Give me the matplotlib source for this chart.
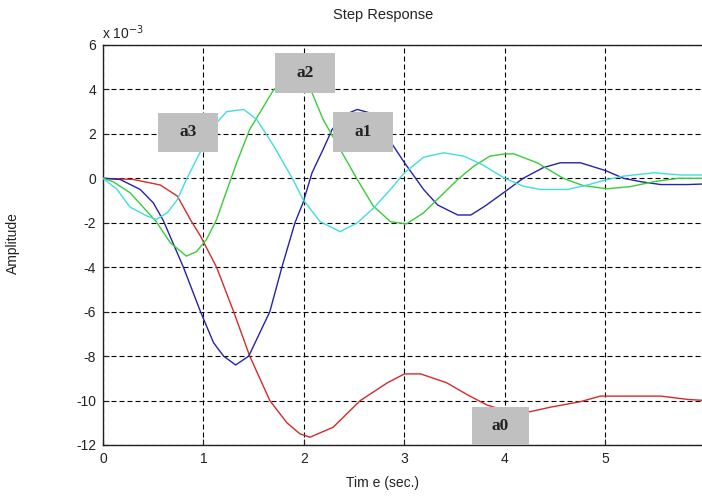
import matplotlib.pyplot as plt
from matplotlib.patches import Rectangle

plt.rcParams['font.family'] = ['Liberation Sans', 'DejaVu Sans']
plt.rcParams['axes.unicode_minus'] = False

# step responses (amplitude in units of 1e-3)
t_a0 = [0, 0.3, 0.57, 0.74, 0.87, 0.97, 1.13, 1.3, 1.46, 1.66, 1.83, 1.96, 2.06, 2.29, 2.56,
        2.83, 3.0, 3.16, 3.42, 3.63, 3.82, 4.0, 4.25, 4.45, 4.75, 4.95, 5.55, 5.82, 6.0]
y_a0 = [0, -0.05, -0.3, -0.8, -1.86, -2.6, -4.0, -6.0, -8.0, -10.0, -11.0, -11.5, -11.65, -11.2, -10.0,
        -9.2, -8.8, -8.8, -9.2, -9.75, -10.2, -10.45, -10.5, -10.3, -10.05, -9.8, -9.8, -9.95, -10.0]

t_a1 = [0, 0.17, 0.37, 0.5, 0.6, 0.8, 0.97, 1.1, 1.2, 1.32, 1.45, 1.66, 1.78, 1.91, 1.99, 2.08,
        2.19, 2.28, 2.4, 2.53, 2.65, 2.78, 2.89, 3.0, 3.19, 3.33, 3.53, 3.66, 3.8, 4.0, 4.18, 4.38,
        4.55, 4.75, 5.0, 5.18, 5.35, 5.55, 5.82, 6.0]
y_a1 = [0, -0.05, -0.5, -1.1, -1.9, -4.0, -6.0, -7.4, -8.0, -8.4, -8.0, -6.0, -4.0, -2.0, -1.1, 0.25,
        1.3, 2.2, 2.85, 3.1, 2.95, 2.3, 1.45, 0.7, -0.5, -1.2, -1.65, -1.65, -1.25, -0.6, 0.0, 0.48,
        0.7, 0.7, 0.35, 0.0, -0.15, -0.28, -0.28, -0.25]

t_a2 = [0, 0.1, 0.27, 0.4, 0.53, 0.67, 0.83, 0.93, 1.03, 1.13, 1.2, 1.33, 1.46, 1.6, 1.7, 1.85,
        1.98, 2.08, 2.19, 2.36, 2.53, 2.69, 2.86, 3.02, 3.19, 3.36, 3.53, 3.69, 3.85, 4.0, 4.09,
        4.32, 4.58, 4.78, 5.02, 5.25, 5.48, 5.72, 6.0]
y_a2 = [0, -0.15, -0.65, -1.3, -1.95, -2.9, -3.5, -3.3, -2.75, -1.86, -0.95, 0.7, 2.2, 3.25, 4.0, 4.5,
        4.55, 3.85, 2.65, 1.3, -0.05, -1.25, -1.95, -2.05, -1.55, -0.8, -0.05, 0.55, 1.0, 1.1, 1.1,
        0.7, 0.0, -0.33, -0.47, -0.37, -0.15, 0.0, 0.0]

t_a3 = [0, 0.14, 0.27, 0.44, 0.53, 0.64, 0.74, 0.83, 0.93, 1.0, 1.13, 1.23, 1.4, 1.53, 1.7, 1.89,
        1.99, 2.16, 2.36, 2.53, 2.69, 2.86, 3.0, 3.19, 3.39, 3.59, 3.78, 4.0, 4.18, 4.35, 4.62,
        4.82, 5.02, 5.18, 5.48, 5.75, 6.0]
y_a3 = [0, -0.5, -1.3, -1.7, -1.85, -1.55, -0.95, -0.05, 0.85, 1.45, 2.5, 3.0, 3.1, 2.65, 1.45, -0.05,
        -0.95, -1.95, -2.4, -2.0, -1.35, -0.5, 0.25, 0.95, 1.15, 1.0, 0.6, 0.0, -0.35, -0.5, -0.5,
        -0.3, -0.05, 0.1, 0.25, 0.15, 0.15]

labels = ['a0', 'a1', 'a2', 'a3']
colors = ['#d42a2a', '#2424a8', '#38cc38', '#40dede']

fig = plt.figure(figsize=(7.02, 4.97), dpi=100)
ax = fig.add_axes([103 / 702, 1 - 445 / 497, 603 / 702, 400 / 497])

for t, y, c in zip([t_a0, t_a1, t_a2, t_a3], [y_a0, y_a1, y_a2, y_a3], colors):
    ax.plot(t, y, color=c, lw=1.0, zorder=3)

ax.set_xlim(0, 6)
ax.set_ylim(-12, 6)
ax.set_xticks(range(0, 7))
ax.set_yticks(range(-12, 7, 2))
ax.grid(True, color='black', lw=0.8, linestyle=(0, (4.5, 2.7)), zorder=1)
ax.set_axisbelow(True)
ax.tick_params(direction='in', length=4, width=0.8, labelsize=10, colors='#222222', pad=5)
for s in ax.spines.values():
    s.set_linewidth(1.0)
    s.set_color('#222222')

# gray tag boxes: (label, x0, y0, width, height) in data units
tags = [('a3', 0.55, 1.2, 0.59, 1.76),
        ('a2', 1.71, 3.82, 0.60, 1.84),
        ('a1', 2.29, 1.2, 0.60, 1.79),
        ('a0', 3.67, -12.0, 0.57, 1.7)]
for name, x0, y0, w, h in tags:
    ax.add_patch(Rectangle((x0, y0), w, h, facecolor='#c0c0c0', edgecolor='none', zorder=4))
    ax.text(x0 + w / 2, y0 + h / 2, name, ha='center', va='center', fontsize=12.5,
            fontweight='bold', family='Liberation Serif', color='#222222', zorder=5)

fig.text(383 / 702, 1 - 15 / 497, 'Step Response', ha='center', va='center', fontsize=10.5,
         color='#222222')
fig.text(383 / 702, 1 - 483 / 497, 'Tim e (sec.)', ha='center', va='center', fontsize=10,
         color='#222222')
fig.text(13 / 702, 1 - 243 / 497, 'Amplitude', ha='center', va='center', rotation=90,
         fontsize=10, color='#222222')
fig.text(102 / 702, 1 - 33 / 497, r'x 10$^{-3}$', ha='left', va='center', fontsize=10,
         color='#222222')

plt.savefig('out.png', dpi=100)
plt.close(fig)
